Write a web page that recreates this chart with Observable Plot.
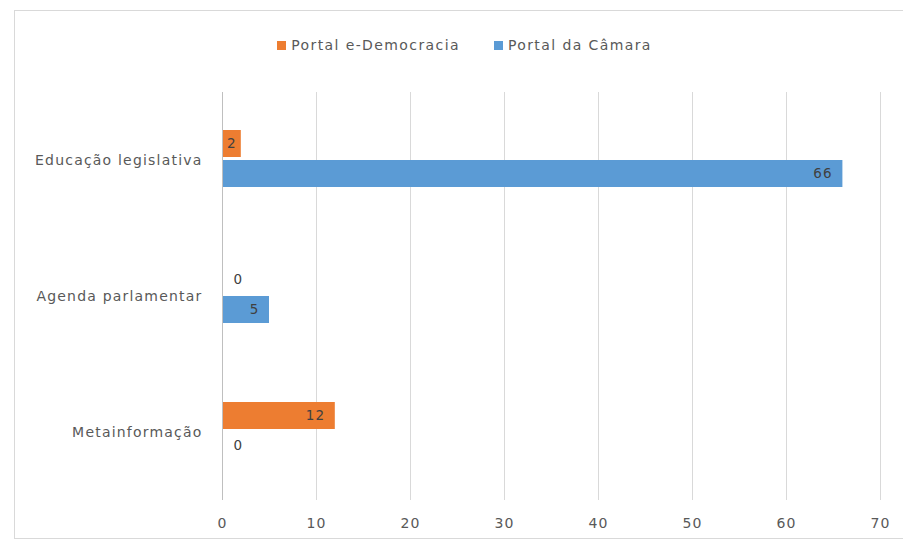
<!DOCTYPE html>
<html>
<head>
<meta charset="utf-8">
<script src="https://cdn.jsdelivr.net/npm/d3@7"></script>
<script src="https://cdn.jsdelivr.net/npm/@observablehq/plot@0.6"></script>
<style>
  body { margin: 0; background: #fff; font-family: "DejaVu Sans", sans-serif; }
  #wrap { position: relative; width: 903px; height: 550px; overflow: hidden; }
  #frame { position: absolute; left: 14px; top: 10px; width: 900px; height: 527px; border: 1px solid #d9d9d9; pointer-events: none; }
  #legend { height: 70px; box-sizing: border-box; padding-top: 20px; padding-left: 26px; display: flex; justify-content: center; align-items: center; gap: 34px; font-size: 14px; color: #595959; letter-spacing: 1.4px; }
  .item { display: flex; align-items: center; }
  .sw { width: 9px; height: 9px; margin-right: 5px; }
  svg { display: block; }
</style>
</head>
<body>
<div id="wrap">
  <div id="legend"></div>
  <div id="chart"></div>
  <div id="frame"></div>
</div>
<script>
const categories = ["Educação legislativa", "Agenda parlamentar", "Metainformação"];
const series = ["Portal e-Democracia", "Portal da Câmara"];
const colors = ["#ED7D31", "#5B9BD5"];
const eDemocracia = [2, 0, 12];
const camara = [66, 5, 0];
const xTicks = [0, 10, 20, 30, 40, 50, 60, 70];

const data = [];
categories.forEach((c, i) => {
  data.push({category: c, series: series[0], value: eDemocracia[i]});
  data.push({category: c, series: series[1], value: camara[i]});
});

const legend = document.getElementById("legend");
series.forEach((s, i) => {
  const it = document.createElement("div");
  it.className = "item";
  const sw = document.createElement("span");
  sw.className = "sw";
  sw.style.background = colors[i];
  const t = document.createElement("span");
  t.textContent = s;
  it.appendChild(sw); it.appendChild(t);
  legend.appendChild(it);
});

const common = {y: "series", fy: "category", text: d => String(d.value), fontSize: 13.5};

const chart = Plot.plot({
  width: 903,
  height: 480,
  marginTop: 22,
  marginBottom: 50,
  marginLeft: 222,
  marginRight: 23,
  style: {fontFamily: "DejaVu Sans, sans-serif", fontSize: "14px", color: "#595959", background: "transparent", letterSpacing: "1.2px"},
  x: {domain: [0, 70], ticks: xTicks, tickSize: 0, tickPadding: 18, label: null},
  y: {domain: series, paddingInner: 0.1, paddingOuter: 1.28, align: 0.48, axis: null},
  fy: {domain: categories, padding: 0, label: null, axis: "left", tickSize: 0, tickPadding: 20},
  color: {domain: series, range: colors},
  marks: [
    Plot.gridX(xTicks, {stroke: "#d9d9d9", strokeOpacity: 1}),
    Plot.barX(data, {x: "value", y: "series", fy: "category", fill: "series"}),
    Plot.ruleX([0], {stroke: "#bfbfbf"}),
    Plot.text(data.filter(d => d.value >= 4), {...common, x: "value", textAnchor: "end", dx: -10, fill: "#404040"}),
    Plot.text(data.filter(d => d.value > 0 && d.value < 4), {...common, x: d => d.value / 2, textAnchor: "middle", fill: "#404040"}),
    Plot.text(data.filter(d => d.value === 0), {...common, x: "value", textAnchor: "middle", dx: 16, fill: "#404040"})
  ]
});
document.getElementById("chart").appendChild(chart);
</script>
</body>
</html>
